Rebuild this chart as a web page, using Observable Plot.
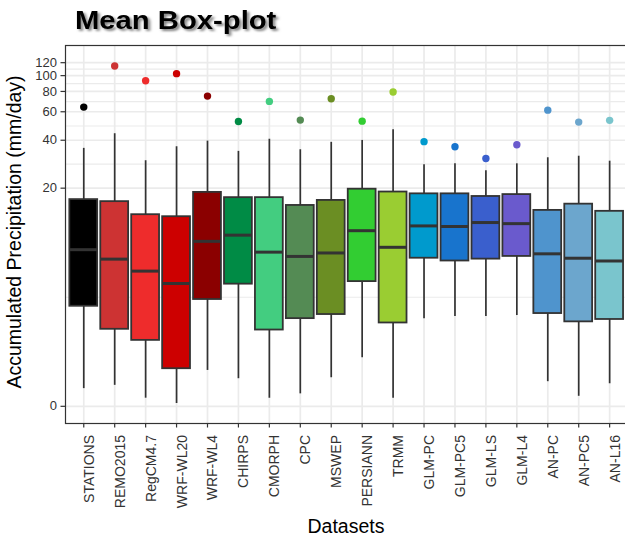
<!DOCTYPE html>
<html>
<head>
<meta charset="utf-8">
<script src="https://cdn.jsdelivr.net/npm/d3@7"></script>
<script src="https://cdn.jsdelivr.net/npm/@observablehq/plot@0.6"></script>
<style>
  body { margin: 0; background: #fff; }
  #chart { width: 625px; height: 536px; overflow: hidden; }
</style>
</head>
<body>
<div id="chart"></div>
<script>
const datasets = ["STATIONS","REMO2015","RegCM4.7","WRF-WL20","WRF-WL4","CHIRPS","CMORPH","CPC","MSWEP","PERSIANN","TRMM","GLM-PC","GLM-PC5","GLM-LS","GLM-L4","AN-PC","AN-PC5","AN-L16"];
const colors = ["#000000","#cd3333","#ee2c2c","#cd0000","#8b0000","#008b45","#43cd80","#548b54","#6b8e23","#32cd32","#9acd32","#009acd","#1874cd","#3a5fcd","#6a5acd","#4f94cd","#6ca6cd","#7ac5cd"];
const meanValues  = [64.1,114.5,93.1,102.8,74.9,52.3,69.5,53.3,72.2,52.5,79.3,39.2,36.4,30.8,37.5,61.4,51.8,53.1];
const whiskerHigh = [35.6,43.9,29.8,36.4,39.5,34.1,40.5,34.9,38.8,39.9,46.5,28.1,28.5,25.8,28.5,31.1,31.8,29.6];
const q3          = [16.9,16.4,13.5,13.1,18.8,17.4,17.4,15.5,16.7,19.7,18.9,18.4,18.4,17.7,18.2,14.4,15.8,14.2];
const median      = [7.9,6.8,5.6,4.55,9.0,9.9,7.6,7.1,7.5,10.6,8.2,11.4,11.3,12.0,11.8,7.4,6.9,6.6];
const q1          = [3.04,1.93,1.51,0.69,3.44,4.5,1.9,2.4,2.6,4.7,2.2,6.9,6.6,6.8,7.1,2.65,2.25,2.36];
const whiskerLow  = [0.28,0.34,0.12,0.04,0.65,0.47,0.12,0.19,0.49,0.97,0.12,2.4,2.5,2.5,2.55,0.41,0.15,0.37];
const yTicks = [0,20,40,60,80,100,120];
const yDomain = [-0.271, 152.8];

const rows = datasets.map((name, i) => ({
  name, color: colors[i], mean: meanValues[i], lo: whiskerLow[i],
  q1: q1[i], med: median[i], q3: q3[i], hi: whiskerHigh[i]
}));
const tf = v => Math.sign(v) * Math.log1p(Math.abs(v));
const minorTicks = yTicks.slice(1).map((t, i) => Math.expm1((tf(yTicks[i]) + tf(t)) / 2));

const plot = Plot.plot({
  width: 625,
  height: 536,
  marginLeft: 65,
  marginRight: -3,
  marginTop: 45,
  marginBottom: 113,
  style: {fontFamily: '"Liberation Sans", Arial, sans-serif', fontSize: "14px", color: "#333", background: "#fff", overflow: "visible"},
  x: {type: "band", domain: datasets, paddingInner: 0.1, paddingOuter: 0.15, align: 0.5, round: false, range: [64.7, 627.7]},
  y: {type: "symlog", constant: 1, domain: yDomain},
  color: {type: "identity"},
  marks: [
    Plot.gridY(minorTicks, {stroke: "#ebebeb", strokeOpacity: 1, strokeWidth: 1.2}),
    Plot.gridY(yTicks, {stroke: "#ebebeb", strokeOpacity: 1, strokeWidth: 1.7}),
    Plot.gridX(datasets, {stroke: "#ebebeb", strokeOpacity: 1, strokeWidth: 1.7}),
    Plot.ruleX(rows, {x: "name", y1: "lo", y2: "hi", stroke: "#333", strokeWidth: 1.7}),
    Plot.barY(rows, {x: "name", y1: "q1", y2: "q3", fill: "color", stroke: "#333", strokeWidth: 1.8}),
    Plot.tickY(rows, {x: "name", y: "med", stroke: "#333", strokeWidth: 3}),
    Plot.dot(rows, {x: "name", y: "mean", fill: "color", r: 3.7}),
    Plot.frame({stroke: "#333", strokeWidth: 1.2}),
    Plot.axisY(yTicks, {tickSize: 4.5, tickPadding: 4, fontSize: 13, label: null, strokeWidth: 1.2, tickFormat: d => String(d)}),
    Plot.axisX({tickSize: 4.5, tickFormat: () => "", label: null, strokeWidth: 1.2}),
    Plot.text(datasets, {x: d => d, frameAnchor: "bottom", rotate: -90, textAnchor: "end", lineAnchor: "middle", dy: 11.5, dx: 5.5, fontSize: 14, fill: "#333"})
  ]
});

document.getElementById("chart").appendChild(plot);

const svg = d3.select(plot);
const defs = svg.append("defs");
const f = defs.append("filter").attr("id", "tshadow").attr("x", "-10%").attr("y", "-30%").attr("width", "130%").attr("height", "170%");
f.append("feDropShadow").attr("dx", 2).attr("dy", 2).attr("stdDeviation", 1.3).attr("flood-color", "#000").attr("flood-opacity", 0.5);

svg.append("text")
  .attr("transform", "translate(75,29.3) scale(1.17,1)")
  .attr("text-anchor", "start")
  .attr("filter", "url(#tshadow)")
  .attr("fill", "#000")
  .style("font-size", "25px")
  .style("font-weight", "bold")
  .text("Mean Box-plot");

svg.append("text")
  .attr("transform", "translate(21,232) rotate(-90)")
  .attr("text-anchor", "middle")
  .attr("fill", "#000")
  .style("font-size", "19.5px")
  .text("Accumulated Precipitation (mm/day)");

svg.append("text")
  .attr("x", 346)
  .attr("y", 533)
  .attr("text-anchor", "middle")
  .attr("fill", "#000")
  .style("font-size", "19.5px")
  .text("Datasets");
</script>
</body>
</html>
